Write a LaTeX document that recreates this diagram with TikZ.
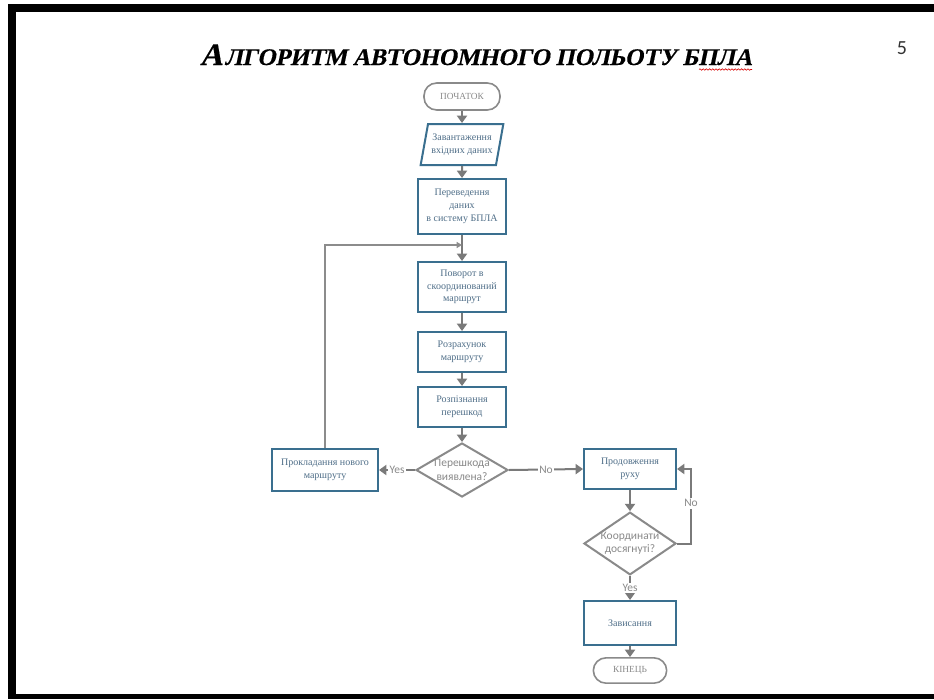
\documentclass[tikz,border=0pt]{standalone}
\usepackage{fontspec}
\setmainfont{Liberation Serif}
\newfontfamily\uisans{Carlito}
\newfontfamily\headfont{Liberation Serif}[FakeSlant=0.21, FakeBold=0.4]
\usetikzlibrary{arrows.meta,shapes.geometric,decorations.pathmorphing,calc}

\definecolor{boxline}{HTML}{3A6F8F}
\definecolor{boxtext}{HTML}{4F6E88}
\definecolor{flow}{HTML}{7A7A7A}
\definecolor{soft}{HTML}{8C8C8C}
\definecolor{decide}{HTML}{8A8A8A}

\begin{document}
\begin{tikzpicture}[x=0.75pt,y=-0.75pt,
  proc/.style={draw=boxline, line width=1.5pt, fill=white, text=boxtext,
    font=\fontsize{7.5}{9.6}\selectfont, align=center, inner sep=0pt,
    minimum width=66pt},
  iobox/.style={proc, trapezium, trapezium left angle=71, trapezium right angle=109,
    trapezium stretches body, minimum width=62pt, minimum height=30.75pt},
  term/.style={draw=decide, line width=1.2pt, rounded corners=9.5pt, fill=white,
    text=decide, font=\fontsize{7}{8}\selectfont, inner sep=0pt},
  decision/.style={diamond, draw=decide, line width=1.5pt, fill=white, inner sep=0pt,
    minimum width=69pt},
  dtext/.style={text=decide, font=\uisans\fontsize{8.6}{10}\selectfont, align=center, inner sep=0pt},
  flowarrow/.style={draw=flow, line width=1.5pt, -{Triangle[width=7.5pt,length=5.5pt]}},
  loopline/.style={draw=soft, line width=1.1pt},
  yesno/.style={fill=white, text=decide, font=\uisans\fontsize{8.6}{10}\selectfont, inner sep=1.2pt},
]
% page and its frame
\fill[white] (0,0) rectangle (934,699);
\useasboundingbox (0,0) rectangle (934,699);
\fill[black] (8,4) rectangle (934,12);
\fill[black] (8,4) rectangle (16,699);
\fill[black] (8,694) rectangle (934,699);

% heading and page number
\node[anchor=base, inner sep=0pt] (title) at (476,65)
  {\headfont\bfseries\fontsize{23.4}{23.4}\selectfont А\kern1.6pt\fontsize{17.9}{17.9}\selectfont ЛГОРИТМ АВТОНОМНОГО ПОЛЬОТУ БПЛА};
\draw[red!85!black, line width=0.45pt, decorate,
  decoration={snake, amplitude=0.55pt, segment length=2.4pt}] (699,69.5) -- (752,69.5);
\node[font=\uisans\fontsize{15}{15}\selectfont, text=black!80, inner sep=0pt] (pagenum) at (902,48) {5};

% flowchart nodes
\node[term, minimum width=57pt, minimum height=20.25pt] (start) at (462,96.5) {ПОЧАТОК};
\node[iobox] (load) at (462,144.5) {Завантаження\\вхідних даних};
\node[proc, minimum height=41.25pt] (conv) at (462,206.5) {Переведення\\даних\\в систему БПЛА};
\coordinate (join) at (462,245);
\node[proc, minimum height=37.5pt] (turn) at (462,287) {Поворот в\\скоординований\\маршрут};
\node[proc, minimum height=30pt] (route) at (462,352) {Розрахунок\\маршруту};
\node[proc, minimum height=30pt] (detect) at (462,407) {Розпізнання\\перешкод};
\node[decision, minimum height=40.5pt] (obst) at (462,470) {};
\node[dtext] (obsttext) at (462,470) {Перешкода\\виявлена?};
\node[proc, minimum width=79.5pt, minimum height=31.5pt] (reroute) at (325,470) {Прокладання нового\\маршруту};
\node[proc, minimum width=69pt, minimum height=30pt] (cont) at (630,469) {Продовження\\руху};
\node[decision, minimum height=47pt] (goal) at (630,543.5) {};
\node[dtext] (goaltext) at (630,543.5) {Координати\\досягнуті?};
\node[proc, minimum width=69pt, minimum height=33pt] (land) at (630,623) {Зависання};
\node[term, minimum width=55pt, minimum height=19pt] (finish) at (630,670.5) {КІНЕЦЬ};

% connectors
\draw[flowarrow] (start) -- (load);
\draw[flowarrow] (load) -- (conv);
\draw[flowarrow] (conv) -- (turn);
\draw[loopline, -{Triangle[width=4.5pt,length=4pt]}] (reroute.north) -- (reroute.north |- join) -- (join);
\draw[flowarrow] (turn) -- (route);
\draw[flowarrow] (route) -- (detect);
\draw[flowarrow] (detect) -- (obst);
\draw[flowarrow] (obst.west) -- node[yesno, pos=0.5] {Yes} (reroute.east);
\draw[flowarrow] (obst.east) -- node[yesno, pos=0.5] {No} (cont.west);
\draw[flowarrow] (cont) -- (goal);
\draw[flowarrow] (goal.east) -- ++(14,0) |- node[yesno, pos=0.27] {No} (cont.east);
\draw[flowarrow] (goal.south) -- node[yesno, pos=0.5] {Yes} (land.north);
\draw[flowarrow] (land) -- (finish);
\end{tikzpicture}
\end{document}
